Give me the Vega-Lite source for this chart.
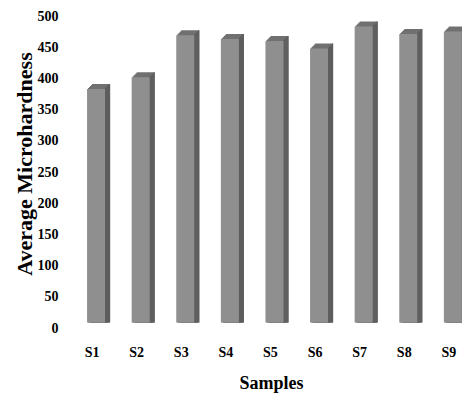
{
  "$schema": "https://vega.github.io/schema/vega-lite/v6.json",
  "autosize": "none",
  "padding": {"left": 62, "top": 16, "right": 0, "bottom": 71},
  "width": 400,
  "height": 312,
  "background": "#ffffff",
  "data": {
    "values": [
      {"sample": "S1", "hardness": 383},
      {"sample": "S2", "hardness": 402},
      {"sample": "S3", "hardness": 469},
      {"sample": "S4", "hardness": 463},
      {"sample": "S5", "hardness": 460},
      {"sample": "S6", "hardness": 448},
      {"sample": "S7", "hardness": 483},
      {"sample": "S8", "hardness": 471},
      {"sample": "S9", "hardness": 475}
    ]
  },
  "encoding": {
    "x": {
      "field": "sample",
      "type": "nominal",
      "sort": null,
      "scale": {"paddingInner": 0.59, "paddingOuter": 0.2793, "align": 1},
      "axis": {
        "title": "Samples",
        "labelAngle": 0,
        "labelFont": "Liberation Serif",
        "labelFontWeight": "bold",
        "labelFontSize": 14,
        "labelColor": "#000000",
        "labelBaseline": "alphabetic",
        "labelPadding": 28.5,
        "labelOffset": -4,
        "ticks": false,
        "domain": false,
        "grid": false,
        "titleFont": "Liberation Serif",
        "titleFontWeight": "bold",
        "titleFontSize": 18,
        "titleColor": "#000000",
        "titleX": 209,
        "titleY": 60,
        "titleBaseline": "alphabetic"
      }
    },
    "y": {
      "field": "hardness",
      "type": "quantitative",
      "scale": {"domain": [0, 500], "nice": false, "zero": true},
      "axis": {
        "title": "Average Microhardness",
        "values": [0, 50, 100, 150, 200, 250, 300, 350, 400, 450, 500],
        "labelFont": "Liberation Serif",
        "labelFontWeight": "bold",
        "labelFontSize": 14,
        "labelColor": "#000000",
        "labelPadding": 4,
        "ticks": false,
        "domain": false,
        "grid": false,
        "titleFont": "Liberation Serif",
        "titleFontWeight": "bold",
        "titleFontSize": 22,
        "titleColor": "#000000",
        "titleX": -31,
        "titleY": 147.5,
        "titleBaseline": "alphabetic",
        "titleAlign": "center"
      }
    },
    "y2": {"datum": 9}
  },
  "layer": [
    {"mark": {"type": "bar", "width": 18, "color": "#707070", "xOffset": 5, "yOffset": -5}},
    {"mark": {"type": "bar", "width": 18, "color": "#707070", "xOffset": 4, "yOffset": -4}},
    {"mark": {"type": "bar", "width": 18, "color": "#707070", "xOffset": 3, "yOffset": -3}},
    {"mark": {"type": "bar", "width": 18, "color": "#707070", "xOffset": 2, "yOffset": -2}},
    {"mark": {"type": "bar", "width": 18, "color": "#707070", "xOffset": 1, "yOffset": -1}},
    {"mark": {"type": "bar", "width": 1.2, "color": "#5e5e5e", "xOffset": 9.5, "yOffset": -1}},
    {"mark": {"type": "bar", "width": 1.2, "color": "#5e5e5e", "xOffset": 10.5, "yOffset": -2}},
    {"mark": {"type": "bar", "width": 1.2, "color": "#5e5e5e", "xOffset": 11.5, "yOffset": -3}},
    {"mark": {"type": "bar", "width": 1.2, "color": "#5e5e5e", "xOffset": 12.5, "yOffset": -4}},
    {"mark": {"type": "bar", "width": 1.2, "color": "#5e5e5e", "xOffset": 13.5, "yOffset": -5}},
    {"mark": {"type": "bar", "width": 18, "color": "#8f8f8f"}}
  ],
  "config": {"view": {"stroke": null}}
}
